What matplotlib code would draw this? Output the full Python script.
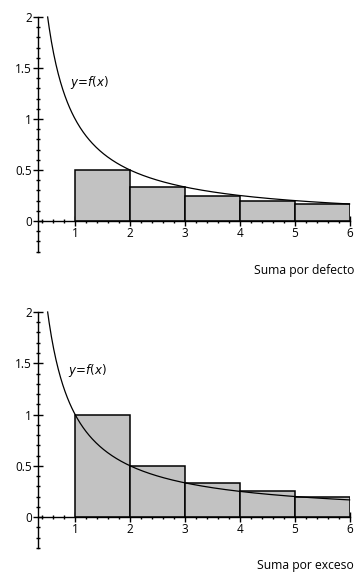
import numpy as np
import matplotlib.pyplot as plt
from matplotlib.ticker import MultipleLocator, FixedLocator

# Partition of [1, 6] and the heights of each rectangle
left_edges = [1, 2, 3, 4, 5]
lower_heights = [0.5, 0.333, 0.25, 0.2, 0.167]   # f at the right end
upper_heights = [1.0, 0.5, 0.333, 0.25, 0.2]     # f at the left end
y_major = [0, 0.5, 1, 1.5, 2]
y_labels = ["0", "0.5", "1", "1.5", "2"]
x_major = [1, 2, 3, 4, 5, 6]
titles = ["Suma por defecto", "Suma por exceso"]


def f(x):
    return 1.0 / x


plt.rcParams["font.family"] = ["Open Sans", "DejaVu Sans"]

W, H = 355, 572
fig = plt.figure(figsize=(W / 100, H / 100), dpi=100)

x0_data, x1_data = 0.33, 6.0
px_per_x = 54.9
y_lo, y_hi = -0.3, 2.0


def make_panel(top_px, px_per_y, heights, title, title_px, label_xy):
    left_px = 20.2 + x0_data * px_per_x
    right_px = 20.2 + x1_data * px_per_x
    zero_px = top_px + y_hi * px_per_y
    bottom_px = zero_px - y_lo * px_per_y
    ax = fig.add_axes([left_px / W, 1 - bottom_px / H,
                       (right_px - left_px) / W, (bottom_px - top_px) / H])
    ax.set_xlim(x0_data, x1_data)
    ax.set_ylim(y_lo, y_hi)
    ax.patch.set_alpha(0)

    ax.bar(left_edges, heights, width=1, align="edge",
           color="#c2c2c2", edgecolor="black", linewidth=1.1, zorder=2)

    xs = np.linspace(0.5, 6.0, 400)
    ax.plot(xs, f(xs), color="black", linewidth=0.9, zorder=3,
            clip_on=False)

    for s in ["top", "right"]:
        ax.spines[s].set_visible(False)
    ax.spines["bottom"].set_position(("data", 0))
    ax.spines["left"].set_bounds(y_lo, y_hi)
    ax.spines["bottom"].set_bounds(x0_data, x1_data)
    for s in ["left", "bottom"]:
        ax.spines[s].set_linewidth(1.0)
        ax.spines[s].set_zorder(4)

    ax.yaxis.set_major_locator(FixedLocator(y_major))
    ax.set_yticklabels(y_labels)
    ax.yaxis.set_minor_locator(MultipleLocator(0.1))
    ax.xaxis.set_major_locator(FixedLocator(x_major))
    ax.xaxis.set_minor_locator(FixedLocator(np.arange(0.4, 6.01, 0.2)))
    ax.tick_params(which="major", direction="inout", length=7, width=1,
                   labelsize=8.5, pad=1)
    ax.tick_params(which="minor", direction="inout", length=3.5, width=1)

    ax.text(label_xy[0], label_xy[1], r"$y\!=\!f(x)$", fontsize=8.5,
            ha="left", va="center", zorder=5,
            math_fontfamily="dejavusans")
    fig.text(354 / W, 1 - title_px / H, title, fontsize=8.7,
             ha="right", va="center")
    return ax


make_panel(17, 102.0, lower_heights, titles[0], 270, (0.9, 1.36))
make_panel(312, 102.5, upper_heights, titles[1], 565, (0.87, 1.43))

fig.savefig("out.png", dpi=100)
